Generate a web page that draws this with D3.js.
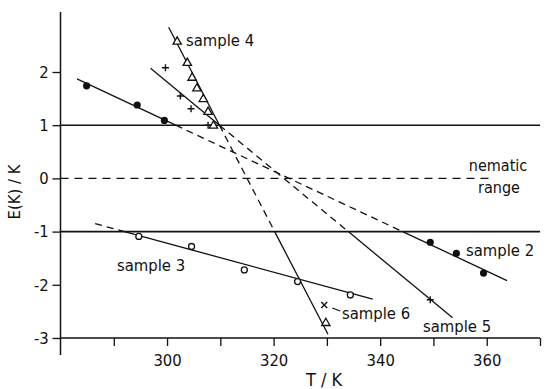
<!DOCTYPE html>
<html>
<head>
<meta charset="utf-8">
<script src="https://cdn.jsdelivr.net/npm/d3@7"></script>
<style>
  body { margin: 0; background: #fff; }
  text { font-family: "DejaVu Sans Condensed", "DejaVu Sans", sans-serif; fill: #111; }
</style>
</head>
<body>
<svg width="546" height="389"></svg>
<script>
// data
// sample 2 : filled circles
s2_T = [284.9, 294.4, 299.5, 349.4, 354.3, 359.4];
s2_E = [1.74, 1.38, 1.09, -1.20, -1.41, -1.78];
// sample 3 : open circles
s3_T = [294.7, 304.6, 314.5, 324.5, 334.4];
s3_E = [-1.09, -1.28, -1.72, -1.94, -2.19];
// sample 4 : triangles
s4_T = [301.9, 303.8, 304.7, 305.6, 306.8, 307.7, 308.7, 329.8];
s4_E = [2.57, 2.17, 1.89, 1.69, 1.49, 1.25, 0.99, -2.72];
// sample 5 : crosses (+)
s5_T = [299.7, 302.5, 304.5, 307.7, 349.4];
s5_E = [2.08, 1.55, 1.31, 1.00, -2.28];
// sample 6 : x
s6_T = [329.5];
s6_E = [-2.38];

// fitted lines [T start, E start, T end, E end]
fit2 = [283.1, 1.87, 363.8, -1.92];
fit3 = [286.5, -0.85, 338.6, -2.27];
fit4 = [300.3, 2.84, 330.2, -2.93];
fit5 = [296.9, 2.07, 353.6, -2.62];

xTicks = [290, 300, 310, 320, 330, 340, 350, 360, 370];
xLabels = [300, 320, 340, 360];
yTicks = [-3, -2, -1, 0, 1, 2];

svg = d3.select("svg");

x = d3.scaleLinear().domain([280, 370]).range([60.5, 540]);
y = d3.scaleLinear().domain([-3, 3]).range([338, 18.8]);

// axes
xAxis = d3.axisBottom(x)
  .tickValues(xTicks)
  .tickSize(8)
  .tickFormat(function(d) { return xLabels.indexOf(d) >= 0 ? d : ""; });
gx = svg.append("g")
  .attr("transform", "translate(0," + y(-3) + ")")
  .call(xAxis);
gx.select(".domain").remove();
gx.selectAll("line").attr("stroke", "#111").attr("stroke-width", 1.3);
gx.selectAll("text").attr("font-size", "16.5px").attr("dy", "1.0em");

yAxis = d3.axisLeft(y)
  .tickValues(yTicks)
  .tickSize(8)
  .tickFormat(function(d) { return String(d); });
gy = svg.append("g")
  .attr("transform", "translate(" + x(280) + ",0)")
  .call(yAxis);
gy.select(".domain").remove();
gy.selectAll("line").attr("stroke", "#111").attr("stroke-width", 1.3);
gy.selectAll("text").attr("font-size", "16.5px").attr("dx", "-0.05em");

// axis lines
svg.append("line")
  .attr("x1", x(280)).attr("x2", x(370))
  .attr("y1", y(-3)).attr("y2", y(-3))
  .attr("stroke", "#111").attr("stroke-width", 1.5);
svg.append("line")
  .attr("x1", x(280)).attr("x2", x(280))
  .attr("y1", y(3.13)).attr("y2", y(-3) + 17)
  .attr("stroke", "#111").attr("stroke-width", 1.5);

// axis titles
svg.append("text")
  .attr("x", 324).attr("y", 386)
  .attr("text-anchor", "middle")
  .attr("font-size", "18px")
  .text("T / K");
svg.append("text")
  .attr("transform", "translate(20,192) rotate(-90)")
  .attr("text-anchor", "middle")
  .attr("font-size", "16.5px")
  .text("E(K) / K");

// nematic range boundaries
svg.append("line")
  .attr("x1", x(280)).attr("x2", x(370))
  .attr("y1", y(1)).attr("y2", y(1))
  .attr("stroke", "#111").attr("stroke-width", 1.6);
svg.append("line")
  .attr("x1", x(280)).attr("x2", x(370))
  .attr("y1", y(-1)).attr("y2", y(-1))
  .attr("stroke", "#111").attr("stroke-width", 1.6);
svg.append("line")
  .attr("x1", x(280)).attr("x2", x(361))
  .attr("y1", y(0)).attr("y2", y(0))
  .attr("stroke", "#111").attr("stroke-width", 1.3)
  .attr("stroke-dasharray", "8,6");

svg.append("text").attr("x", 498).attr("y", 171)
  .attr("text-anchor", "middle").attr("font-size", "16px").text("nematic");
svg.append("text").attr("x", 499).attr("y", 193)
  .attr("text-anchor", "middle").attr("font-size", "16px").text("range");

// fitted lines: solid outside the nematic range, dashed inside
function drawFit(f) {
  var t0 = f[0], e0 = f[1], t1 = f[2], e1 = f[3];
  var m = (e1 - e0) / (t1 - t0);
  function tAt(e) { return t0 + (e - e0) / m; }
  // split points where the line crosses E = 1 and E = -1
  var cuts = [t0];
  [1, -1].forEach(function(e) {
    var t = tAt(e);
    if (t > t0 && t < t1) cuts.push(t);
  });
  cuts.push(t1);
  cuts.sort(function(a, b) { return a - b; });
  for (var i = 0; i < cuts.length - 1; i++) {
    var ta = cuts[i], tb = cuts[i + 1];
    var ea = e0 + m * (ta - t0), eb = e0 + m * (tb - t0);
    var mid = (ea + eb) / 2;
    svg.append("line")
      .attr("x1", x(ta)).attr("y1", y(ea))
      .attr("x2", x(tb)).attr("y2", y(eb))
      .attr("stroke", "#111").attr("stroke-width", 1.3)
      .attr("stroke-dasharray", Math.abs(mid) < 1 ? "7,5" : null);
  }
}
[fit2, fit3, fit4, fit5].forEach(drawFit);

function pts(T, E) { return T.map(function(t, i) { return [t, E[i]]; }); }

// markers
svg.append("g").selectAll("circle")
  .data(pts(s2_T, s2_E)).join("circle")
  .attr("cx", function(d) { return x(d[0]); })
  .attr("cy", function(d) { return y(d[1]); })
  .attr("r", 3.6).attr("fill", "#111");

svg.append("g").selectAll("circle")
  .data(pts(s3_T, s3_E)).join("circle")
  .attr("cx", function(d) { return x(d[0]); })
  .attr("cy", function(d) { return y(d[1]); })
  .attr("r", 3).attr("fill", "#fff").attr("stroke", "#111").attr("stroke-width", 1.3);

triangle = d3.symbol().type(d3.symbolTriangle).size(30);
svg.append("g").selectAll("path")
  .data(pts(s4_T, s4_E)).join("path")
  .attr("d", triangle)
  .attr("transform", function(d) { return "translate(" + x(d[0]) + "," + y(d[1]) + ")"; })
  .attr("fill", "#fff").attr("stroke", "#111").attr("stroke-width", 1.3);

svg.append("g").selectAll("path")
  .data(pts(s5_T, s5_E)).join("path")
  .attr("d", "M-3.5,0H3.5M0,-3.5V3.5")
  .attr("transform", function(d) { return "translate(" + x(d[0]) + "," + y(d[1]) + ")"; })
  .attr("stroke", "#111").attr("stroke-width", 1.4).attr("fill", "none");

svg.append("g").selectAll("path")
  .data(pts(s6_T, s6_E)).join("path")
  .attr("d", "M-3,-3L3,3M-3,3L3,-3")
  .attr("transform", function(d) { return "translate(" + x(d[0]) + "," + y(d[1]) + ")"; })
  .attr("stroke", "#111").attr("stroke-width", 1.4).attr("fill", "none");

// sample labels
svg.append("text").attr("x", 186).attr("y", 46).attr("font-size", "16.5px").text("sample 4");
svg.append("text").attr("x", 466).attr("y", 256).attr("font-size", "16.5px").text("sample 2");
svg.append("text").attr("x", 117).attr("y", 271).attr("font-size", "16.5px").text("sample 3");
svg.append("text").attr("x", 423).attr("y", 332).attr("font-size", "16.5px").text("sample 5");
svg.append("text").attr("x", 342).attr("y", 319).attr("font-size", "16.5px").text("sample 6");
svg.append("line")
  .attr("x1", x(s6_T[0]) + 8).attr("y1", y(s6_E[0]) + 3)
  .attr("x2", x(s6_T[0]) + 16).attr("y2", y(s6_E[0]) + 6)
  .attr("stroke", "#111").attr("stroke-width", 1.3);
</script>
</body>
</html>
